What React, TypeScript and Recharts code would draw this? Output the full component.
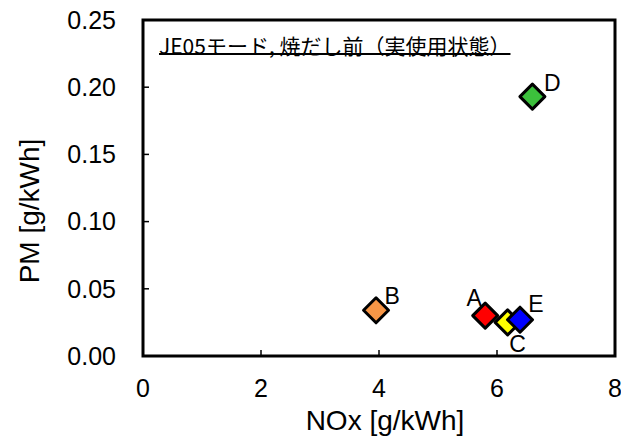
import React from 'react';
import { ScatterChart, Scatter, XAxis, YAxis, ReferenceArea, Label } from 'recharts';

const pointNames = ['A', 'B', 'C', 'D', 'E'];
const noxValues = [5.8, 3.95, 6.18, 6.6, 6.39];
const pmValues = [0.03, 0.034, 0.025, 0.193, 0.027];
const xTicks = [0, 2, 4, 6, 8];
const yTicks = [0, 0.05, 0.1, 0.15, 0.2, 0.25];
const titleText = 'JE05モード, 焼だし前（実使用状態）';
const xAxisTitle = 'NOx [g/kWh]';
const yAxisTitle = 'PM [g/kWh]';

const pointColors: Record<string, string> = {
  A: '#FF0000',
  B: '#F79646',
  C: '#FFFF00',
  D: '#3CC03C',
  E: '#0000FF',
};
const labelOffsets: Record<string, [number, number]> = {
  A: [-11, -18],
  B: [16, -14],
  C: [10, 22],
  D: [20, -14],
  E: [16, -16],
};

const data = pointNames.map((name, i) => ({ name, nox: noxValues[i], pm: pmValues[i] }));

const FONT = '"Liberation Sans", Arial, sans-serif';
const X_MARGIN = 23;
const Y_MARGIN = 27;

const Diamond = (props: any) => {
  const { cx, cy, payload } = props;
  const r = 12.5;
  const [dx, dy] = labelOffsets[payload.name];
  return (
    <g>
      <polygon
        points={`${cx},${cy - r} ${cx + r},${cy} ${cx},${cy + r} ${cx - r},${cy}`}
        fill={pointColors[payload.name]}
        stroke="#000"
        strokeWidth={3}
        strokeLinejoin="round"
      />
      <text
        x={cx + dx}
        y={cy + dy}
        textAnchor="middle"
        dominantBaseline="central"
        fontFamily={FONT}
        fontSize={23}
        fill="#000"
      >
        {payload.name}
      </text>
    </g>
  );
};

const XTick = (props: any) => {
  const { x, y, payload } = props;
  const axisY = y - X_MARGIN;
  const v = payload.value;
  return (
    <g>
      {v !== xTicks[0] && v !== xTicks[xTicks.length - 1] && (
        <line x1={x} x2={x} y1={axisY} y2={axisY - 6} stroke="#000" strokeWidth={1.5} />
      )}
      <text x={x} y={y} dy="0.71em" textAnchor="middle" fontFamily={FONT} fontSize={25} fill="#000">
        {v}
      </text>
    </g>
  );
};

const YTick = (props: any) => {
  const { x, y, payload } = props;
  const axisX = x + Y_MARGIN;
  const v = payload.value;
  return (
    <g>
      {v !== yTicks[0] && v !== yTicks[yTicks.length - 1] && (
        <line x1={axisX} x2={axisX + 6} y1={y} y2={y} stroke="#000" strokeWidth={1.5} />
      )}
      <text x={x} y={y} dy="0.355em" textAnchor="end" fontFamily={FONT} fontSize={25} fill="#000">
        {v.toFixed(2)}
      </text>
    </g>
  );
};

const XTitle = (props: any) => {
  const vb = props.viewBox;
  return (
    <text x={vb.x + vb.width / 2 + 6} y={vb.y + 74} textAnchor="middle" fontFamily={FONT} fontSize={28} fill="#000">
      {xAxisTitle}
    </text>
  );
};

const YTitle = (props: any) => {
  const vb = props.viewBox;
  const cx = 29;
  const cy = vb.y + vb.height / 2 + 23;
  return (
    <text
      x={cx}
      y={cy}
      transform={`rotate(-90 ${cx} ${cy})`}
      textAnchor="middle"
      dominantBaseline="central"
      fontFamily={FONT}
      fontSize={28}
      fill="#000"
    >
      {yAxisTitle}
    </text>
  );
};

export default function App() {
  return (
    <div style={{ position: 'absolute', left: 0, top: 0, width: 621, height: 436, background: '#fff' }}>
      <ScatterChart width={621} height={436} margin={{ top: 20, right: 6, bottom: 0, left: 0 }}>
        <XAxis
          type="number"
          dataKey="nox"
          domain={[0, 8]}
          ticks={xTicks}
          height={80}
          axisLine={false}
          tickLine={false}
          tickSize={0}
          tickMargin={X_MARGIN}
          tick={<XTick />}
          interval={0}
        >
          <Label content={<XTitle />} />
        </XAxis>
        <YAxis
          type="number"
          dataKey="pm"
          domain={[0, 0.25]}
          ticks={yTicks}
          width={143}
          axisLine={false}
          tickLine={false}
          tickSize={0}
          tickMargin={Y_MARGIN}
          tick={<YTick />}
          interval={0}
        >
          <Label content={<YTitle />} />
        </YAxis>
        <ReferenceArea x1={0} x2={8} y1={0} y2={0.25} fill="none" stroke="#000" strokeWidth={3} />
        <Scatter data={data} shape={<Diamond />} isAnimationActive={false} />
      </ScatterChart>
      <div
        style={{
          position: 'absolute',
          left: 159,
          top: 33,
          fontFamily: '"Noto Sans CJK JP", sans-serif',
          fontSize: 21,
          lineHeight: '24px',
          whiteSpace: 'nowrap',
          color: '#000',
          textDecorationLine: 'underline',
          textDecorationThickness: '2px',
          textUnderlineOffset: '-1px',
          textDecorationSkipInk: 'none',
        }}
      >
        {titleText}
      </div>
    </div>
  );
}
